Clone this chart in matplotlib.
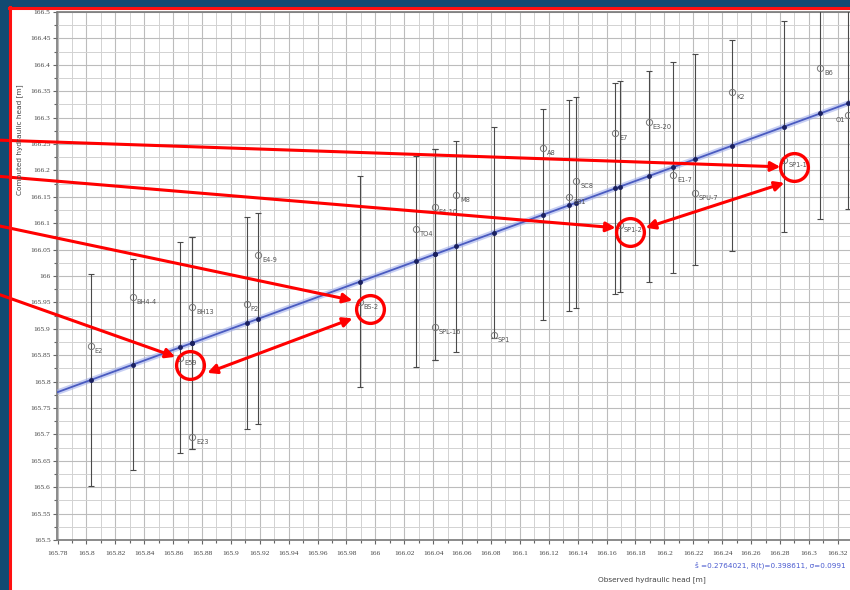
import matplotlib
matplotlib.use("Agg")
import matplotlib.pyplot as plt
from matplotlib.ticker import MultipleLocator, FuncFormatter
from matplotlib.transforms import offset_copy
from matplotlib.patches import Rectangle
from matplotlib.lines import Line2D

# ---- data ----
names = ["E2", "BH4-4", "E59", "BH13", "E23", "P2", "E4-9", "BS-2", "TO4",
         "E4-10", "SPL-16", "M8", "SP1", "A8", "E81", "SC8", "E7", "SP1-2",
         "E3-20", "E1-7", "SPU-7", "K2", "SP1-1", "B6", "O1"]
observed = [165.803, 165.832, 165.865, 165.873, 165.873, 165.911, 165.919,
            165.989, 166.028, 166.041, 166.041, 166.056, 166.082, 166.116,
            166.134, 166.139, 166.166, 166.169, 166.189, 166.206, 166.221,
            166.247, 166.283, 166.308, 166.327]
computed = [165.867, 165.960, 165.845, 165.941, 165.695, 165.947, 166.040,
            165.950, 166.089, 166.131, 165.903, 166.153, 165.888, 166.242,
            166.150, 166.180, 166.271, 166.097, 166.292, 166.191, 166.157,
            166.348, 166.220, 166.394, 166.305]
uncertainty = [0.2] * len(names)
highlighted = ["E59", "BS-2", "SP1-2", "SP1-1"]
stats_text = "\u015d =0.2764021, R(t)=0.398611, \u03c3=0.0991"

W, H = 850, 590
fig = plt.figure(figsize=(W / 100, H / 100), dpi=100)
fig.patch.set_facecolor("#124a72")

# white panel + red frame
fig.add_artist(Rectangle((11 / W, 0), 1, (H - 9) / H, transform=fig.transFigure,
                         facecolor="white", edgecolor="none", zorder=0))
fig.add_artist(Line2D([9 / W, 1], [(H - 7.5) / H] * 2, transform=fig.transFigure,
                      color="#ff1010", lw=2.2, zorder=1))
fig.add_artist(Line2D([9.5 / W] * 2, [0, (H - 7) / H], transform=fig.transFigure,
                      color="#ff1010", lw=2.2, zorder=1))

x0, x1 = 165.78, 166.3395
y0, y1 = 165.5, 166.5
ax = fig.add_axes([57.5 / W, 50 / H, (x1 - x0) * 1445 / W, 528 / H])
ax.set_xlim(x0, x1)
ax.set_ylim(y0, y1)
ax.set_facecolor("white")

ax.xaxis.set_major_locator(MultipleLocator(0.02))
ax.xaxis.set_minor_locator(MultipleLocator(0.01))
ax.yaxis.set_major_locator(MultipleLocator(0.05))
ax.yaxis.set_minor_locator(MultipleLocator(0.025))
fmt = FuncFormatter(lambda v, p: ("%.3f" % v).rstrip("0").rstrip("."))
ax.xaxis.set_major_formatter(fmt)
ax.yaxis.set_major_formatter(fmt)
ax.grid(which="major", color="#bcbcbc", lw=0.8)
ax.grid(which="minor", color="#d2d2d2", lw=0.7)
ax.set_axisbelow(True)
ax.spines["right"].set_visible(False)
for s in ["left", "bottom", "top"]:
    ax.spines[s].set_color("#777777")
    ax.spines[s].set_linewidth(1.2)
ax.tick_params(which="both", direction="out", length=3, width=0.8,
               color="#666666", labelsize=5.3, labelcolor="#444444", pad=2)
ax.tick_params(which="minor", length=2)
ax.tick_params(axis="x", pad=5)

# 1:1 line
ax.plot([x0, x1], [x0, x1], color="#9aa8ea", lw=4, alpha=0.55, zorder=3, solid_capstyle="butt")
ax.plot([x0, x1], [x0, x1], color="#4a5bc0", lw=1.3, zorder=4)
ax.plot(observed, observed, "o", ms=2.5, color="#1a2060", zorder=5)

# error bars centered on observation
ax.errorbar(observed, observed, yerr=uncertainty, fmt="none", ecolor="#4a4a4a",
            elinewidth=0.8, capsize=2.5, capthick=0.8, zorder=4)

# computed values
ax.plot(observed, computed, "o", ms=4.5, mfc="none", mec="#777777", mew=0.7, zorder=6)
lab_tr = offset_copy(ax.transData, fig=fig, x=4, y=-2, units="dots")
lab_tr_left = offset_copy(ax.transData, fig=fig, x=-3, y=-2, units="dots")
for n, xo, yc in zip(names, observed, computed):
    near_edge = xo > 166.32
    ax.text(xo, yc, n, transform=lab_tr_left if near_edge else lab_tr,
            fontsize=4.8, color="#555555", ha="right" if near_edge else "left",
            va="top", family="DejaVu Sans", zorder=7)

# highlight circles
idx = {n: i for i, n in enumerate(names)}
def ctr(name, dx=0, dy=0):
    i = idx[name]
    return (observed[i], computed[i]), offset_copy(ax.transData, fig=fig,
                                                     x=10 + dx, y=-7 + dy, units="dots")
for n in highlighted:
    p, tr = ctr(n)
    ax.plot([p[0]], [p[1]], "o", ms=20, mfc="none", mec="#ff0000", mew=2.4,
            transform=tr, zorder=9, clip_on=False)

red = "#ff0000"
def arrow(target, tdx, tdy, start_px, both=False, source=None):
    p, tr = ctr(target, tdx, tdy)
    style = "<|-|>" if both else "-|>"
    props = dict(arrowstyle=style, color=red, lw=2.2, mutation_scale=14,
                 shrinkA=0, shrinkB=0)
    if source is None:
        ax.annotate("", xy=p, xycoords=tr, xytext=start_px, textcoords="figure pixels",
                    arrowprops=props, zorder=10, annotation_clip=False)
    else:
        sp, str_ = ctr(*source)
        ax.annotate("", xy=p, xycoords=tr, xytext=sp, textcoords=str_,
                    arrowprops=props, zorder=10, annotation_clip=False)

arrow("SP1-1", -14, 0, (-5, H - 140))
arrow("SP1-2", -14, 4, (-5, H - 176))
arrow("BS-2", -17, 9, (-5, H - 225))
arrow("E59", -15, 8, (-5, H - 293))
arrow("BS-2", -17, -9, None, both=True, source=("E59", 17, -8))
arrow("SP1-1", -10, -16, None, both=True, source=("SP1-2", 16, 4))

# texts
fig.text(20 / W, 1 - 140 / H, "Computed hydraulic head [m]", rotation=90,
         ha="center", va="center", fontsize=5.3, color="#444444")
fig.text(652 / W, 1 - 580 / H, "Observed hydraulic head [m]", ha="center",
         va="center", fontsize=5.3, color="#444444")
fig.text(846 / W, 1 - 565 / H, stats_text, ha="right", va="center",
         fontsize=5.2, color="#4a5bd0")

# fonts of tick labels
fig.canvas.draw()
for t in ax.xaxis.get_major_ticks() + ax.yaxis.get_major_ticks():
    t.label1.set_family("Liberation Serif")

fig.savefig("out.png", dpi=100, facecolor=fig.get_facecolor())
